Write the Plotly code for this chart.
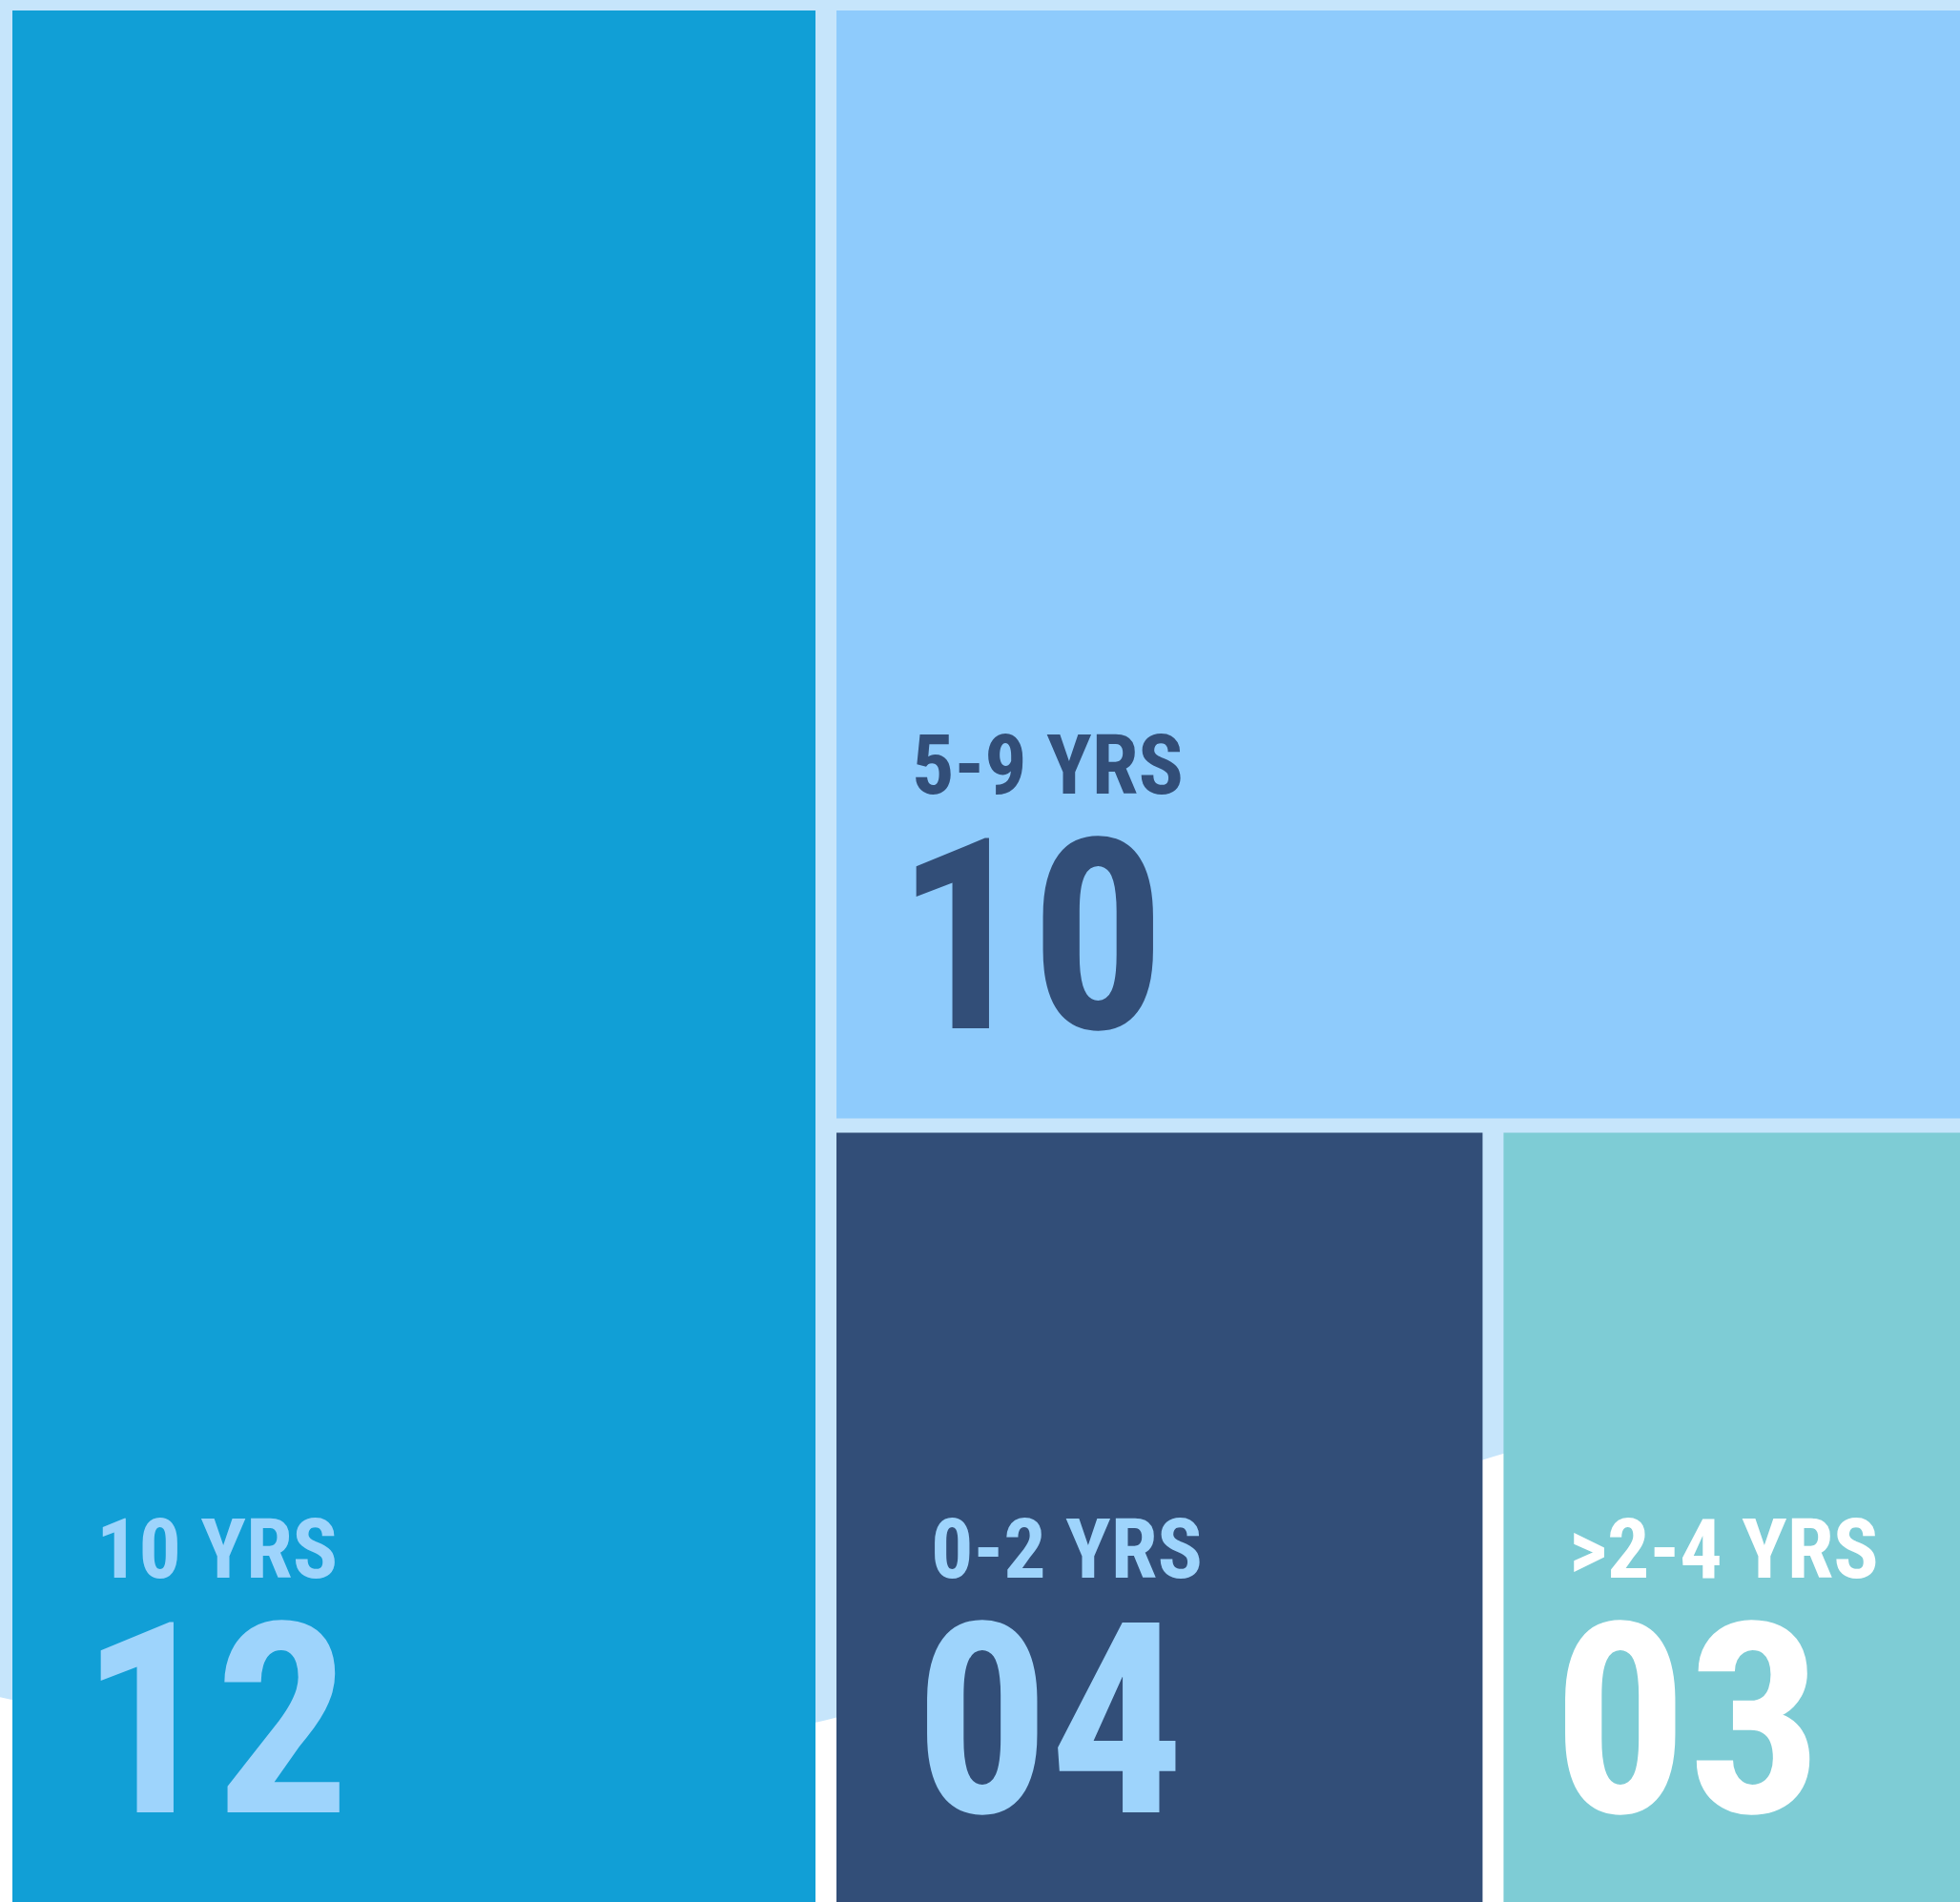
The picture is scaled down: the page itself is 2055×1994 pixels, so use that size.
import plotly.graph_objects as go

# tenure buckets and headcount per bucket
labels = ["10 YRS", "5-9 YRS", "0-2 YRS", "&gt;2-4 YRS"]
values = [12, 10, 4, 3]

fill_colors = ["#119FD6", "#8ECBFC", "#324E78", "#7ECCD5"]
text_colors = ["#9ED4FC", "#324E78", "#9ED4FC", "#FFFFFF"]
label_pads = [93, 84, 104, 74]  # left inset of the text inside each cell

FONT = "Liberation Sans Narrow, Roboto Condensed, Roboto, Arial Narrow, sans-serif"
BG = "#C6E5FB"
W, H = 2055, 1994
BOX = (2, 3.5, 2090, 2003.5)  # area split by the tiles (x0, y0, x1, y1)
GAP_X, GAP_Y = 11, 7.5


def split_layout(vals, x0, y0, x1, y1):
	# each value takes its share along the longer side of what is left
	cells = []
	rest = list(vals)
	while rest:
		v = rest.pop(0)
		if not rest:
			cells.append((x0, y0, x1, y1))
			break
		share = v / (v + sum(rest))
		if (x1 - x0) >= (y1 - y0):
			xm = x0 + share * (x1 - x0)
			cells.append((x0, y0, xm, y1))
			x0 = xm
		else:
			ym = y0 + share * (y1 - y0)
			cells.append((x0, y0, x1, ym))
			y0 = ym
	return cells


fig = go.Figure()
annotations = []
for lab, val, fc, tc, pad, (x0, y0, x1, y1) in zip(labels, values, fill_colors, text_colors,
                                                   label_pads, split_layout(values, *BOX)):
	cx0, cx1 = x0 + GAP_X, x1 - GAP_X
	cy0, cy1 = y0 + GAP_Y, y1 - GAP_Y
	fig.add_trace(
		go.Scatter(
			x=[cx0, cx1, cx1, cx0, cx0],
			y=[cy0, cy0, cy1, cy1, cy0],
			fill="toself",
			fillcolor=fc,
			mode="lines",
			line=dict(width=0, color=fc),
			hoverinfo="skip",
			showlegend=False,
		)
	)
	base = min(cy1, H) - 94  # baseline of the big number
	annotations.append(dict(
		x=cx0 + pad - 24, y=base + 70, xref="x", yref="y",
		text=f"{val:02d}", showarrow=False, xanchor="left", yanchor="bottom",
		font=dict(family=FONT, size=280, color=tc, weight=700),
	))
	annotations.append(dict(
		x=cx0 + pad - 7, y=base - 246 + 23, xref="x", yref="y",
		text=lab, showarrow=False, xanchor="left", yanchor="bottom",
		font=dict(family=FONT, size=88, color=tc, weight=700),
	))

fig.update_xaxes(range=[0, W], visible=False, fixedrange=True)
fig.update_yaxes(range=[H, 0], visible=False, fixedrange=True)
fig.update_layout(
	width=W,
	height=H,
	margin=dict(l=0, r=0, t=0, b=0),
	paper_bgcolor=BG,
	plot_bgcolor=BG,
	annotations=annotations,
	shapes=[dict(
		type="path", xref="x", yref="y", layer="below",
		path="M -10,1777 C 900,1984 1166,1647 1566,1527 L 2070,1378 L 2070,2010 L -10,2010 Z",
		fillcolor="#FFFFFF", line=dict(width=0),
	)],
)
fig.write_html("out.html", config={"displayModeBar": False},
               post_script="document.body.style.margin='0';")
